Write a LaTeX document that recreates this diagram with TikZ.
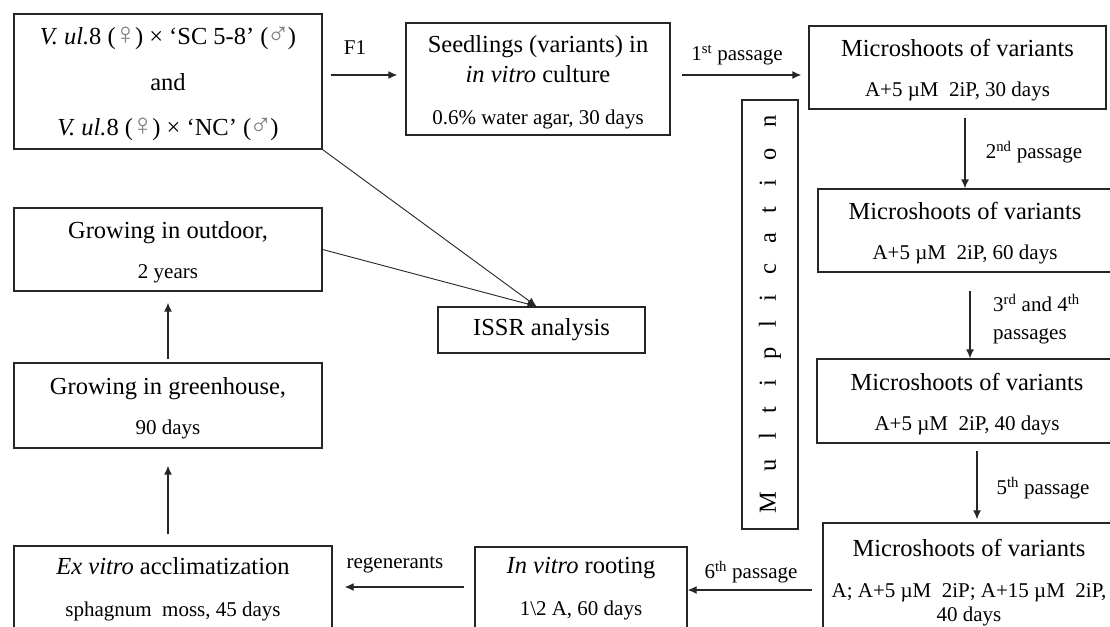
\documentclass[tikz,border=0pt]{standalone}
\usepackage{fontspec}
\setmainfont{Liberation Serif}
\usetikzlibrary{positioning}
\usetikzlibrary{calc}
\usetikzlibrary{arrows.meta}

\newcommand{\mainsz}{\fontsize{24.5}{40}\selectfont}
\newcommand{\subsz}{\fontsize{21}{24}\selectfont}
\newcommand{\gap}{\hspace{19.8pt}}
\newcommand{\up}{\rule{0pt}{23pt}}
\newcommand{\fem}{{\fontsize{31}{31}\selectfont\color{black!50}\kern-2pt♀\kern-2pt}}
\newcommand{\mal}{{\fontsize{31}{31}\selectfont\color{black!50}\kern-2pt♂\kern-2pt}}

\begin{document}
\begin{tikzpicture}[x=1pt, y=-1pt,
  stage/.style={draw=black!85, line width=1.3pt, rectangle, align=center, inner sep=0pt, font=\mainsz},
  flow/.style={-{Latex[length=9pt,width=8pt]}, line width=1.3pt, draw=black!85},
  tie/.style={-{Latex[length=9pt,width=8pt]}, line width=0.9pt, draw=black!85},
  passlbl/.style={inner sep=0pt, font=\fontsize{21}{28}\selectfont}]
  \fill[white] (0,0) rectangle (1110,626);
  \useasboundingbox (0,0) rectangle (1110,626);
  \clip (0,0) rectangle (1110,626);

  \node[stage, minimum width=308pt, minimum height=135pt, font=\fontsize{24.5}{45.5}\selectfont] (cross) at (168,81.5)
    {\up\textit{V. ul.}8 (\fem) × ‘SC 5-8’ (\mal)\\and\\\textit{V. ul.}8 (\fem) × ‘NC’ (\mal)};
  \node[stage, minimum width=264pt, minimum height=112pt, font=\fontsize{24.5}{30}\selectfont] (seed) at (538,79)
    {\up Seedlings (variants) in\\\textit{in vitro} culture\\[12pt]{\subsz 0.6\% water agar, 30 days}};
  \node[stage, minimum width=297pt, minimum height=83pt] (micro1) at (957.5,67.5)
    {\up Microshoots of variants\\{\subsz A+5 µM~~2iP, 30 days}};
  \node[stage, minimum width=294pt, minimum height=83pt] (micro2) at (965,230.5)
    {\up Microshoots of variants\\{\subsz A+5 µM~~2iP, 60 days}};
  \node[stage, minimum width=300pt, minimum height=84pt] (micro3) at (967,401)
    {\up Microshoots of variants\\{\subsz A+5 µM~~2iP, 40 days}};
  \node[stage, minimum width=292pt, minimum height=114pt, font=\fontsize{24.5}{41}\selectfont] (micro4) at (969,580)
    {\up Microshoots of variants\\{\subsz A; A+5 µM~~2iP; A+15 µM~~2iP,}\\[-17pt]{\subsz 40 days}};
  \node[stage, rotate=90, minimum width=429pt, minimum height=56pt] (mult) at (770,314.5)
    {M\gap u\gap l\gap t\gap i\gap p\gap l\gap i\gap c\gap a\gap t\gap i\gap o\gap n};
  \node[stage, minimum width=308pt, minimum height=83pt] (outdoor) at (168,249.5)
    {\up Growing in outdoor,\\{\subsz 2 years}};
  \node[stage, minimum width=207pt, minimum height=46pt] (issr) at (541.5,330) {ISSR analysis};
  \node[stage, minimum width=308pt, minimum height=85pt] (green) at (168,405.5)
    {\up Growing in greenhouse,\\{\subsz 90 days}};
  \node[stage, minimum width=318pt, minimum height=86pt, font=\fontsize{24.5}{42}\selectfont] (exvitro) at (173,589)
    {\textit{Ex vitro} acclimatization\\{\subsz sphagnum~~moss, 45 days}};
  \node[stage, minimum width=212pt, minimum height=84pt, font=\fontsize{24.5}{42}\selectfont] (rooting) at (581,589)
    {\textit{In vitro} rooting\\{\subsz 1\textbackslash 2 A, 60 days}};

  % passage labels
  \node[passlbl] (lf1) at (355,48) {F1};
  \node[passlbl] (l1) at (737,55) {1\textsuperscript{st} passage};
  \node[passlbl] (l2) at (1034,152) {2\textsuperscript{nd} passage};
  \node[passlbl, align=left, anchor=west] (l34) at (993,319) {3\textsuperscript{rd} and 4\textsuperscript{th}\\passages};
  \node[passlbl] (l5) at (1043,488) {5\textsuperscript{th} passage};
  \node[passlbl] (l6) at (751,572) {6\textsuperscript{th} passage};
  \node[passlbl] (lreg) at (395,565) {regenerants};

  \coordinate (f1) at ([xshift=8pt,yshift=6.5pt]cross.east);
  \coordinate (p1) at ([xshift=11pt,yshift=4pt]seed.east);
  \coordinate (p34) at ([xshift=3pt]micro3.north);
  \coordinate (p5) at ([xshift=8pt]micro4.north);
  \coordinate (p6) at ([yshift=-10pt]micro4.west);
  \coordinate (preg) at ([yshift=2pt]rooting.west);

  \draw[flow, shorten >=8pt] (f1) -- (f1 -| seed.west);
  \draw[flow, shorten >=7pt] (p1) -- (p1 -| micro1.west);
  \draw[flow, shorten <=8pt] (micro1.south -| micro2.north) -- (micro2.north);
  \draw[flow, shorten <=18pt] (micro2.south -| p34) -- (p34);
  \draw[flow, shorten <=7pt, shorten >=3pt] (micro3.south -| p5) -- (p5);
  \draw[flow, shorten <=10pt] (p6) -- (p6 -| rooting.east);
  \draw[flow, shorten <=10pt, shorten >=12pt] (preg) -- (preg -| exvitro.east);
  \draw[flow, shorten <=11pt, shorten >=17pt] (exvitro.north -| green.south) -- (green.south);
  \draw[flow, shorten <=3pt, shorten >=11pt] (green.north) -- (outdoor.south);

  \draw[tie] (cross.south east) -- ([xshift=-5pt]issr.north);
  \draw[tie] (outdoor.east) -- ([xshift=-5pt]issr.north);
\end{tikzpicture}
\end{document}
